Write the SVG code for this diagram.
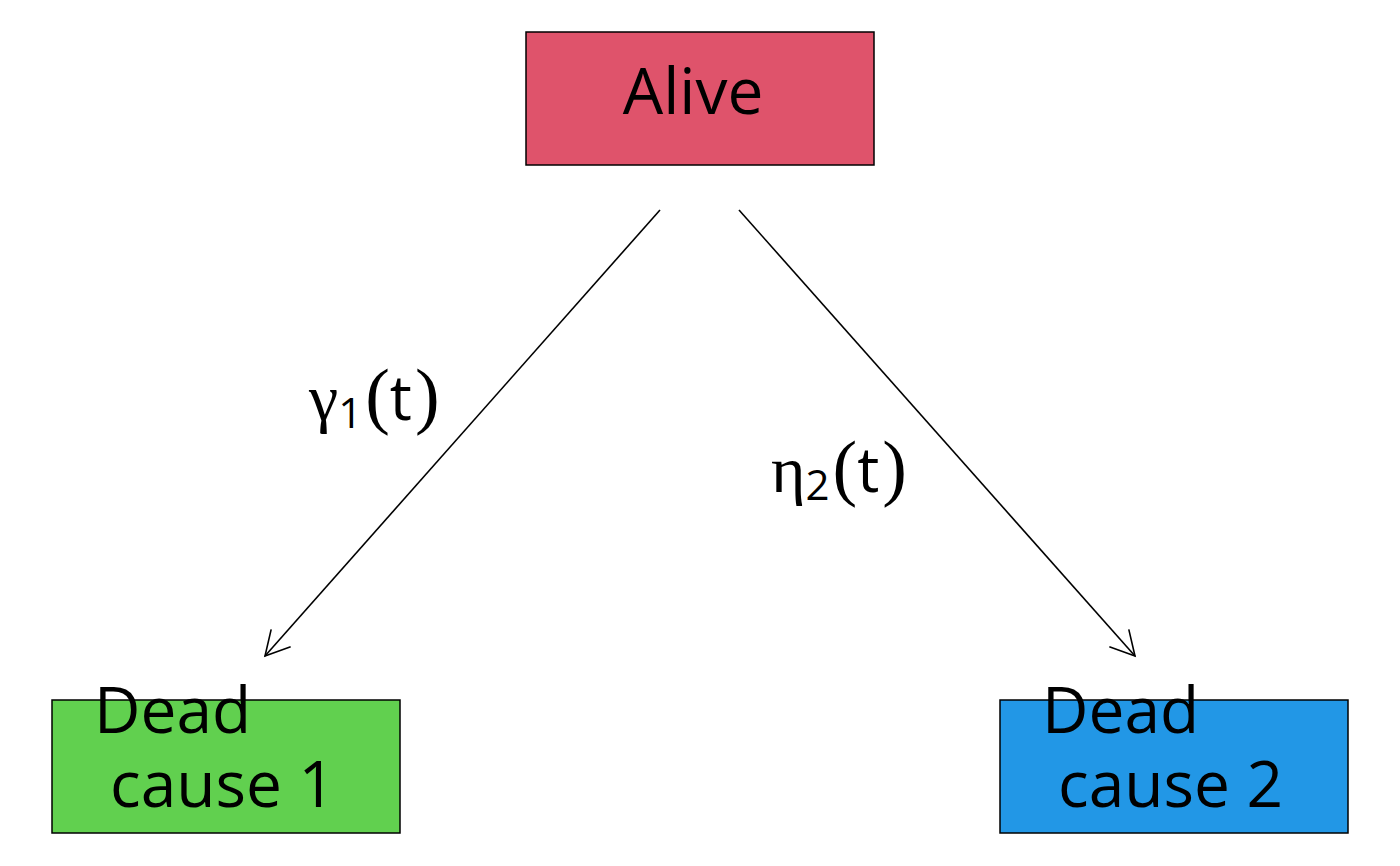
<svg xmlns="http://www.w3.org/2000/svg" width="1400" height="866" viewBox="0 0 1400 866">
<defs>
<style>
.box{stroke:#000;stroke-width:1.5}
.lbl{font-family:"Open Sans","Liberation Sans",sans-serif;font-size:64px;fill:#000}
.edge{stroke:#000;stroke-width:1.6;fill:none}
.math{font-family:"Open Sans","Liberation Sans",sans-serif;font-size:62px;fill:#000}
.ser{font-family:"Liberation Serif",serif}
</style>
<marker id="arr" markerUnits="userSpaceOnUse" markerWidth="40" markerHeight="40" refX="26" refY="14" orient="auto">
<path d="M2,1 L26,14 L2,27" fill="none" stroke="#000" stroke-width="1.6"/>
</marker>
</defs>
<rect width="1400" height="866" fill="#fff"/>
<g id="connectors">
<line class="edge" x1="660" y1="210" x2="265" y2="656" marker-end="url(#arr)"/>
<line class="edge" x1="739" y1="210" x2="1135" y2="656" marker-end="url(#arr)"/>
<text class="math" x="309" y="420"><tspan class="ser" font-size="66">γ</tspan><tspan font-size="42" dy="8">1</tspan><tspan class="ser" font-size="74" dy="-8" dx="3">(</tspan><tspan>t</tspan><tspan class="ser" font-size="74" dx="3">)</tspan></text>
<text class="math" x="771" y="492"><tspan class="ser" font-size="66">η</tspan><tspan font-size="42" dy="8">2</tspan><tspan class="ser" font-size="74" dy="-8" dx="3">(</tspan><tspan>t</tspan><tspan class="ser" font-size="74" dx="3">)</tspan></text>
</g>
<g id="alive">
<rect class="box" x="526" y="32" width="348" height="133" fill="#DF536B"/>
<text class="lbl" x="693" y="114" text-anchor="middle" font-size="65">Alive</text>
</g>
<g id="dead1">
<rect class="box" x="52" y="700" width="348" height="133" fill="#61D04F"/>
<text class="lbl" x="94" y="733">Dead</text>
<text class="lbl" x="110" y="807">cause 1</text>
</g>
<g id="dead2">
<rect class="box" x="1000" y="700" width="348" height="133" fill="#2297E6"/>
<text class="lbl" x="1042" y="733">Dead</text>
<text class="lbl" x="1058" y="807">cause 2</text>
</g>
</svg>
